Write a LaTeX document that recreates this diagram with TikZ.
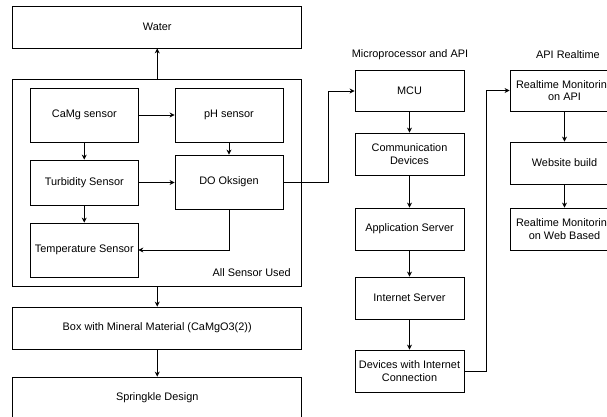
\documentclass[tikz,border=0pt]{standalone}
\usepackage{fontspec}
\setmainfont{Liberation Sans}
\usetikzlibrary{arrows.meta}
\begin{document}
\begin{tikzpicture}[x=1pt,y=-1pt,
  every node/.style={font=\fontsize{10.9}{12.7}\selectfont, inner sep=0pt},
  box/.style={draw, line width=0.8pt, rectangle, align=center},
  arr/.style={draw, line width=0.8pt, -{Stealth[length=5pt,width=5pt]}},
  lab/.style={}]
\useasboundingbox (0,0) rectangle (607,417);
% left column
\node[box, minimum width=289pt, minimum height=42pt] (water) at (157.2,27) {Water};
\node[box, minimum width=289pt, minimum height=207pt] (sens) at (157.2,182.5) {};
\node[box, minimum width=107.3pt, minimum height=54pt] (camg) at (84.3,115) {CaMg sensor};
\node[box, minimum width=108pt, minimum height=54pt] (ph) at (229,115) {pH sensor};
\node[box, minimum width=107.3pt, minimum height=45pt] (turb) at (84.3,182.5) {Turbidity Sensor};
\node[box, minimum width=108pt, minimum height=54pt] (do) at (229,182) {DO Oksigen};
\node[box, minimum width=107.3pt, minimum height=54pt] (temp) at (84.3,250) {Temperature Sensor};
\node[lab, anchor=east] (used) at (291,273) {All Sensor Used};
\node[box, minimum width=289pt, minimum height=42pt] (mineral) at (157.2,328) {Box with Mineral Material (CaMgO3(2))};
\node[box, minimum width=289pt, minimum height=42pt] (spring) at (157.2,398) {Springkle Design};
% middle column
\node[lab] (mptitle) at (410,55) {Microprocessor and API};
\node[box, minimum width=109pt, minimum height=41pt] (mcu) at (409.5,91) {MCU};
\node[box, minimum width=109pt, minimum height=42pt] (comm) at (409.5,154) {Communication\\Devices};
\node[box, minimum width=109pt, minimum height=42pt] (app) at (409.5,229) {Application Server};
\node[box, minimum width=109pt, minimum height=42pt] (inet) at (409.5,298) {Internet Server};
\node[box, minimum width=109pt, minimum height=42pt] (dev) at (409.5,371) {Devices with Internet\\Connection};
% right column
\node[lab] (apititle) at (568,55) {API Realtime};
\node[box, minimum width=109pt, minimum height=41pt] (rmapi) at (564.5,90.5) {Realtime Monitoring\\on API};
\node[box, minimum width=109pt, minimum height=42pt] (web) at (564.5,163) {Website build};
\node[box, minimum width=109pt, minimum height=42pt] (rmweb) at (564.5,229) {Realtime Monitoring\\on Web Based};
% connectors
\coordinate (c1) at (328,182);
\coordinate (c2) at (486,371);
\draw[arr] (sens.north) -- (water.south);
\draw[arr] (camg.east) -- (ph.west);
\draw[arr] (camg.south) -- (turb.north);
\draw[arr] (ph.south) -- (do.north);
\draw[arr] (turb.east) -- (turb.east -| do.west);
\draw[arr] (turb.south) -- (temp.north);
\draw[arr] (do.south) |- (temp.east);
\draw[arr] (sens.south) -- (mineral.north);
\draw[arr] (mineral.south) -- (spring.north);
\draw[arr] (do.east) -- (c1) |- (mcu.west);
\draw[arr] (mcu.south) -- (comm.north);
\draw[arr] (comm.south) -- (app.north);
\draw[arr] (app.south) -- (inet.north);
\draw[arr] (inet.south) -- (dev.north);
\draw[arr] (dev.east) -- (c2) |- (rmapi.west);
\draw[arr] (rmapi.south) -- (web.north);
\draw[arr] (web.south) -- (rmweb.north);
\end{tikzpicture}
\end{document}
